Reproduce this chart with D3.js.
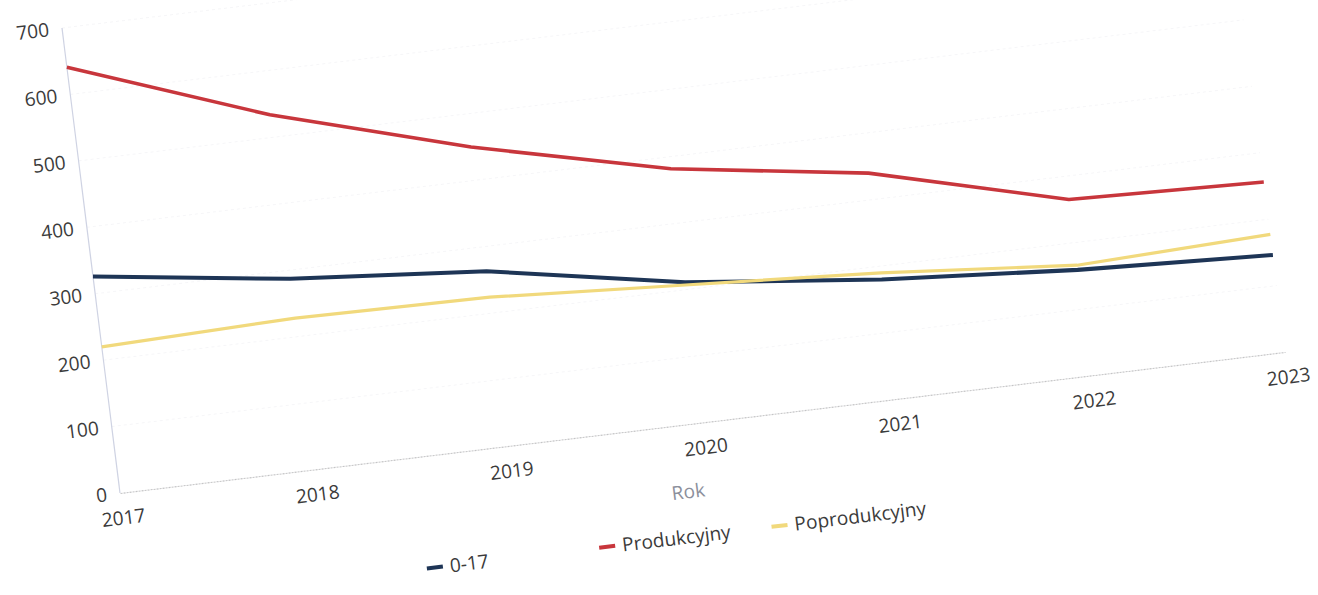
<!DOCTYPE html>
<html>
<head>
<meta charset="utf-8">
<script src="https://cdn.jsdelivr.net/npm/d3@7"></script>
<style>
  html, body { margin: 0; padding: 0; background: #ffffff; }
  svg { display: block; }
  text { font-family: "Open Sans", "Noto Sans", sans-serif; }
</style>
</head>
<body>
<svg id="chart" width="1318" height="595"></svg>
<script>
// ---- data ----
const years = ["2017", "2018", "2019", "2020", "2021", "2022", "2023"];
const youth = [326, 287, 263, 211, 180, 159, 146];          // 0-17
const working = [641, 534, 450, 382, 340, 265, 256];        // Produkcyjny
const retired = [220, 228, 224, 207, 190, 166, 177];        // Poprodukcyjny
const yTicks = [0, 100, 200, 300, 400, 500, 600, 700];
const seriesNames = ["0-17", "Produkcyjny", "Poprodukcyjny"];
const seriesColors = ["#1e3556", "#c8363c", "#f1d97c"];
const xTitle = "Rok";

// ---- layout ----
const W = 1165, H = 465;
const svg = d3.select("#chart");
// the printed chart is photographed at a slant: map the flat chart onto it
const g = svg.append("g")
  .attr("transform", "matrix(1,-0.12103,0.12473,1,62,28)");

const x = d3.scalePoint().domain(years).range([0, W]);
const y = d3.scaleLinear().domain([0, 700]).range([H, 0]);

// very faint gridlines
g.append("g").selectAll("line")
  .data(yTicks.filter(d => d > 0))
  .join("line")
  .attr("x1", 0).attr("x2", W)
  .attr("y1", d => y(d)).attr("y2", d => y(d))
  .attr("stroke", "#f6f6f8").attr("stroke-width", 1)
  .attr("stroke-dasharray", "3,3");

// axes
const yAxis = g.append("g")
  .call(d3.axisLeft(y).tickValues(yTicks).tickSize(0).tickPadding(13));
yAxis.select(".domain").remove();
yAxis.selectAll("text")
  .attr("fill", "#3b3b3b").style("font-size", "19px")
  .style("font-family", "'Open Sans', sans-serif");

g.append("line")
  .attr("x1", 0).attr("x2", 0).attr("y1", 0).attr("y2", H)
  .attr("stroke", "#cfd3e3").attr("stroke-width", 1.2);

const xAxis = g.append("g").attr("transform", `translate(0,${H})`)
  .call(d3.axisBottom(x).tickSize(0).tickPadding(18));
xAxis.select(".domain").attr("stroke", "#c4c4c6").attr("stroke-width", 1.1)
  .attr("stroke-dasharray", "2,1");
xAxis.selectAll("text")
  .attr("fill", "#3b3b3b").style("font-size", "19px")
  .style("font-family", "'Open Sans', sans-serif");

g.append("text")
  .attr("x", 560).attr("y", 538)
  .attr("text-anchor", "middle")
  .attr("fill", "#8c909c").style("font-size", "19px")
  .text(xTitle);

// lines
const seriesData = [youth, working, retired];
const line = d3.line()
  .x((d, i) => x(years[i]))
  .y(d => y(d));
const widths = [4, 3.6, 3.2];
seriesData.forEach((s, k) => {
  g.append("path")
    .datum(s)
    .attr("d", line)
    .attr("fill", "none")
    .attr("stroke", seriesColors[k])
    .attr("stroke-width", widths[k])
    .attr("stroke-linejoin", "round");
});

// legend
const legendX = d3.scaleBand().domain(seriesNames).range([293, 810]);
const legend = g.append("g").attr("transform", "translate(0,576)");
const items = legend.selectAll("g").data(seriesNames).join("g")
  .attr("transform", d => `translate(${legendX(d) + 8},0)`);
items.append("line")
  .attr("x1", -8).attr("x2", 8).attr("y1", 0).attr("y2", 0)
  .attr("stroke", (d, i) => seriesColors[i])
  .attr("stroke-width", 4);
items.append("text")
  .attr("x", 15).attr("y", 0).attr("dy", "0.35em")
  .attr("fill", "#3b3b3b").style("font-size", "19px")
  .text(d => d);
</script>
</body>
</html>
